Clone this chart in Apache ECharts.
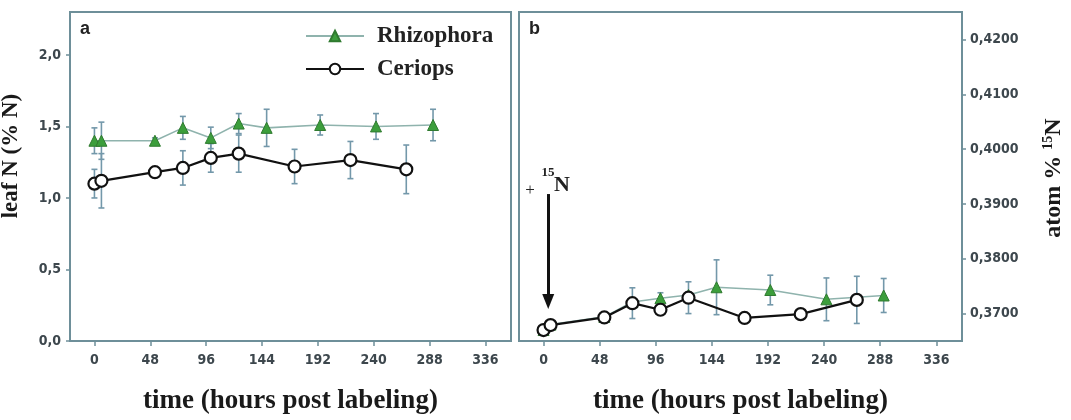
<!DOCTYPE html>
<html>
<head>
<meta charset="utf-8">
<script src="https://cdn.jsdelivr.net/npm/echarts@6/dist/echarts.min.js"></script>
<style>
  html, body { margin: 0; padding: 0; background: #fff; }
  #c { width: 1071px; height: 420px; }
</style>
</head>
<body>
<div id="c"></div>
<script>
// ---- data ----
const rhizoTimes = [0, 6, 52, 76, 100, 124, 148, 194, 242, 291];
const ceriTimes  = [0, 6, 52, 76, 100, 124, 172, 220, 268];

// panel a: leaf N (% N)
const rhizoN   = [1.40, 1.40, 1.40, 1.49, 1.42, 1.52, 1.49, 1.51, 1.50, 1.51];
const rhizoNsd = [0.09, 0.13, 0.02, 0.08, 0.075, 0.07, 0.13, 0.07, 0.09, 0.11];
const ceriN    = [1.10, 1.12, 1.18, 1.21, 1.28, 1.31, 1.22, 1.265, 1.20];
const ceriNsd  = [0.10, 0.19, 0.02, 0.12, 0.10, 0.13, 0.12, 0.13, 0.17];

// panel b: atom % 15N
const rhizo15N   = [0.3670, 0.3680, 0.3694, 0.3721, 0.3728, 0.3734, 0.3748, 0.3743, 0.3726, 0.3733];
const rhizo15Nsd = [0.0003, 0.0003, 0.0003, 0.0005, 0.0010, 0.0005, 0.0050, 0.0027, 0.0039, 0.0031];
const ceri15N    = [0.3670, 0.3679, 0.3693, 0.3719, 0.3707, 0.3729, 0.3692, 0.3699, 0.3725];
const ceri15Nsd  = [0.0003, 0.0003, 0.0003, 0.0028, 0.0004, 0.0029, 0.0003, 0.0003, 0.0043];

// ticks
const xTicks  = [0, 48, 96, 144, 192, 240, 288, 336];
const yTicksA = [0, 0.5, 1.0, 1.5, 2.0];
const yTicksB = [0.37, 0.38, 0.39, 0.40, 0.41, 0.42];

// labeling arrow (time, from, to)
const arrowTime = 4, arrowFrom = 0.3918, arrowTo = 0.3722;

// ---- styles ----
const boxColor = '#6e8f99';
const tickText = '#3d474d';
const errColor = '#7398aa';
const greenLine = '#8fb3ad';
const serif = '"Liberation Serif", "DejaVu Serif", serif';
const sansC = '"DejaVu Sans Condensed", "Liberation Sans Narrow", "DejaVu Sans", sans-serif';

const zip = (a, b) => a.map((t, i) => [t, b[i]]);
const zip3 = (a, b, c) => a.map((t, i) => [t, b[i], c[i]]);

function errSeries(name, xi, data) {
  return {
    type: 'custom', name: name + ' err', xAxisIndex: xi, yAxisIndex: xi, z: 1,
    silent: true, data: data,
    renderItem: function (params, api) {
      const x = api.value(0), y = api.value(1), e = api.value(2);
      const top = api.coord([x, y + e]);
      const bot = api.coord([x, y - e]);
      const cw = 3;
      const st = { stroke: errColor, lineWidth: 1.6 };
      return {
        type: 'group',
        children: [
          { type: 'line', shape: { x1: top[0], y1: top[1], x2: bot[0], y2: bot[1] }, style: st },
          { type: 'line', shape: { x1: top[0] - cw, y1: top[1], x2: top[0] + cw, y2: top[1] }, style: st },
          { type: 'line', shape: { x1: bot[0] - cw, y1: bot[1], x2: bot[0] + cw, y2: bot[1] }, style: st }
        ]
      };
    }
  };
}

function rhizoSeries(xi, data) {
  return {
    type: 'line', name: 'Rhizophora', xAxisIndex: xi, yAxisIndex: xi, z: 2,
    data: data, symbol: 'triangle', symbolSize: 11,
    lineStyle: { color: greenLine, width: 1.6 },
    itemStyle: { color: '#3c9e3c', borderColor: '#2f7a2f', borderWidth: 1 }
  };
}
function ceriSeries(xi, data, extra) {
  return Object.assign({
    type: 'line', name: 'Ceriops', xAxisIndex: xi, yAxisIndex: xi, z: 3,
    data: data, symbol: 'circle', symbolSize: 12,
    lineStyle: { color: '#111', width: 2.2 },
    itemStyle: { color: '#fff', borderColor: '#111', borderWidth: 2.2 }
  }, extra || {});
}

function xAxisDef(gi) {
  return {
    type: 'value', gridIndex: gi, min: -21, max: 358,
    name: 'time (hours post labeling)', nameLocation: 'middle', nameGap: 47,
    nameTextStyle: { fontFamily: serif, fontWeight: 'bold', fontSize: 27, color: '#1a1a1a' },
    axisLine: { show: true, onZero: false, lineStyle: { color: boxColor, width: 2 } },
    axisTick: { show: true, inside: false, length: 5, customValues: xTicks, lineStyle: { color: boxColor, width: 1.5 } },
    axisLabel: { customValues: xTicks, margin: 12, fontFamily: sansC, fontWeight: 'bold', fontSize: 14, color: tickText },
    splitLine: { show: false }
  };
}

const option = {
  animation: false,
  backgroundColor: '#fff',
  grid: [
    { left: 70, top: 12, width: 441, height: 331, show: true, borderColor: boxColor, borderWidth: 2, containLabel: false },
    { left: 519, top: 12, width: 443, height: 331, show: true, borderColor: boxColor, borderWidth: 2, containLabel: false }
  ],
  xAxis: [xAxisDef(0), xAxisDef(1)],
  yAxis: [
    {
      type: 'value', gridIndex: 0, min: 0, max: 2.3, position: 'left',
      axisLine: { show: true, onZero: false, lineStyle: { color: boxColor, width: 2 } },
      axisTick: { show: true, length: 4, customValues: yTicksA, lineStyle: { color: boxColor, width: 1.5 } },
      axisLabel: { customValues: yTicksA, margin: 9, fontFamily: sansC, fontWeight: 'bold', fontSize: 14, color: tickText,
        formatter: v => v.toFixed(1).replace('.', ',') },
      splitLine: { show: false }
    },
    {
      type: 'value', gridIndex: 1, min: 0.365, max: 0.425, position: 'right',
      axisLine: { show: true, onZero: false, lineStyle: { color: boxColor, width: 2 } },
      axisTick: { show: true, length: 4, customValues: yTicksB, lineStyle: { color: boxColor, width: 1.5 } },
      axisLabel: { customValues: yTicksB, margin: 8, fontFamily: sansC, fontWeight: 'bold', fontSize: 14, color: tickText,
        formatter: v => v.toFixed(4).replace('.', ',') },
      splitLine: { show: false }
    }
  ],
  legend: {
    data: ['Rhizophora', 'Ceriops'], orient: 'vertical', left: 300, top: 19,
    itemWidth: 58, itemHeight: 13, itemGap: 9, selectedMode: false,
    textStyle: { fontFamily: serif, fontWeight: 'bold', fontSize: 23, color: '#222', lineHeight: 24, padding: [0, 0, 0, 8] }
  },
  series: [
    errSeries('Rhizophora', 0, zip3(rhizoTimes, rhizoN, rhizoNsd)),
    errSeries('Ceriops', 0, zip3(ceriTimes, ceriN, ceriNsd)),
    rhizoSeries(0, zip(rhizoTimes, rhizoN)),
    ceriSeries(0, zip(ceriTimes, ceriN)),
    errSeries('Rhizophora', 1, zip3(rhizoTimes, rhizo15N, rhizo15Nsd)),
    errSeries('Ceriops', 1, zip3(ceriTimes, ceri15N, ceri15Nsd)),
    rhizoSeries(1, zip(rhizoTimes, rhizo15N)),
    ceriSeries(1, zip(ceriTimes, ceri15N), {
      markLine: {
        silent: true, symbol: ['none', 'triangle'], symbolSize: [12, 15],
        lineStyle: { color: '#111', width: 3, type: 'solid' },
        itemStyle: { color: '#111' },
        label: { show: false },
        data: [[{ coord: [arrowTime, arrowFrom] }, { coord: [arrowTime, arrowTo] }]]
      }
    })
  ],
  graphic: [
    { type: 'text', x: 80, y: 29, style: { text: 'a', font: 'bold 18px "Liberation Sans", Arial, sans-serif', fill: '#222', align: 'left', verticalAlign: 'middle', textAlign: 'left', textVerticalAlign: 'middle' } },
    { type: 'text', x: 529, y: 29, style: { text: 'b', font: 'bold 18px "Liberation Sans", Arial, sans-serif', fill: '#222', align: 'left', verticalAlign: 'middle', textAlign: 'left', textVerticalAlign: 'middle' } },
    { type: 'text', x: 11, y: 156, rotation: Math.PI / 2,
      style: { text: 'leaf N (% N)', font: 'bold 23px ' + serif, fill: '#1a1a1a', align: 'center', verticalAlign: 'middle', textAlign: 'center', textVerticalAlign: 'middle' } },
    { type: 'text', x: 1054, y: 178, rotation: Math.PI / 2,
      style: { text: '{a|atom % }{s|15}{a|N}', fill: '#1a1a1a', align: 'center', verticalAlign: 'middle', textAlign: 'center', textVerticalAlign: 'middle',
        rich: {
          a: { fontFamily: serif, fontWeight: 'bold', fontSize: 24, lineHeight: 26, fill: '#1a1a1a', color: '#1a1a1a' },
          s: { fontFamily: serif, fontWeight: 'bold', fontSize: 14, lineHeight: 26, verticalAlign: 'top', fill: '#1a1a1a', color: '#1a1a1a' }
        } } },
    { type: 'text', x: 530, y: 191, style: { text: '+', font: '17px ' + serif, fill: '#222', align: 'center', verticalAlign: 'middle', textAlign: 'center', textVerticalAlign: 'middle' } },
    { type: 'text', x: 548, y: 173, style: { text: '15', font: 'bold 13px ' + serif, fill: '#222', align: 'center', verticalAlign: 'middle', textAlign: 'center', textVerticalAlign: 'middle' } },
    { type: 'text', x: 562, y: 185, style: { text: 'N', font: 'bold 22px ' + serif, fill: '#222', align: 'center', verticalAlign: 'middle', textAlign: 'center', textVerticalAlign: 'middle' } }
  ]
};

const chart = echarts.init(document.getElementById('c'), null, { renderer: 'canvas', width: 1071, height: 420 });
chart.setOption(option);
</script>
</body>
</html>
